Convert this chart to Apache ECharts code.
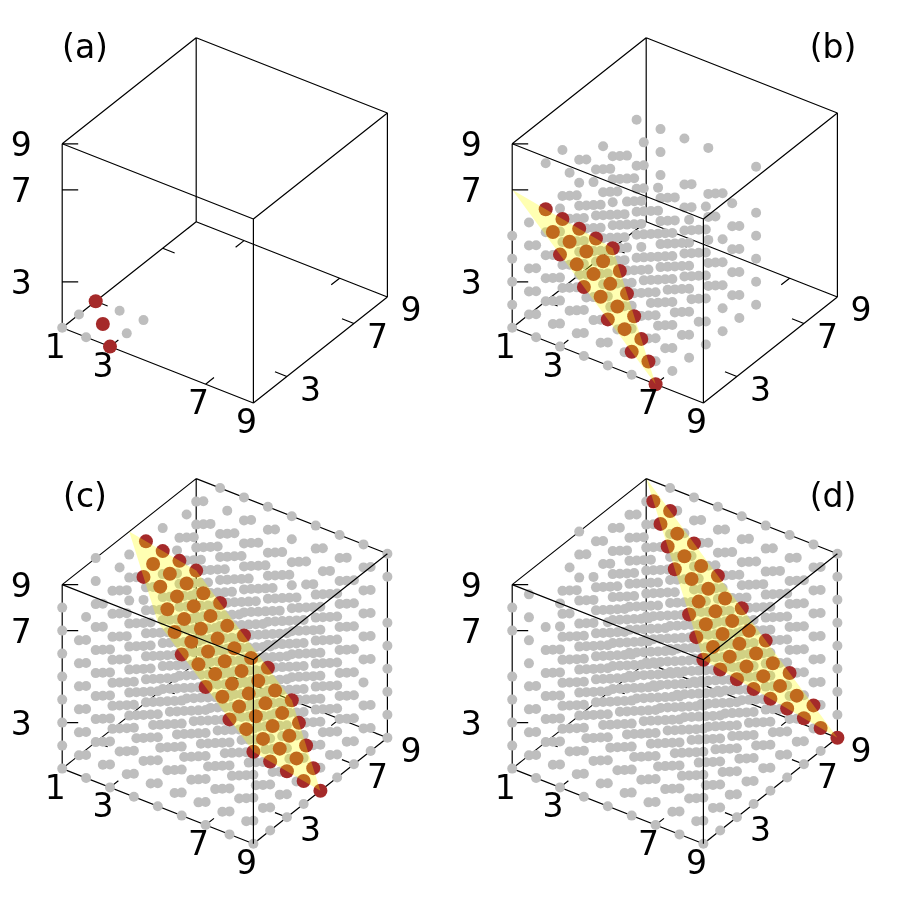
<!DOCTYPE html>
<html><head><meta charset="utf-8">
<style>html,body{margin:0;padding:0;background:#fff}#c{width:900px;height:900px}</style>
<script src="https://cdn.jsdelivr.net/npm/echarts@6/dist/echarts.min.js"></script></head>
<body><div id="c"></div>
<script>
// Occupancy. Each entry is a z layer (z=1 first); rows are y=1,2,... separated by "|", digits are x.
const greyA=["123|123|123"];
const greyB=[
 "1234567|1234567|1234567|1234567|1234567|123457|1234567",
 "1234567|1234567|1234567|1234567|1234567|1234567|1234567",
 "1234567|1234567|1234567|1234567|1234567|1234567|1234567",
 "1234567|1234567|1234567|123567|1234567|3457|1234567",
 "1234567|1234567|1234567|1234567|1234567|1234567|1234567",
 "345|3457|234567|3457|1235|2356|3",
 "34|3457|123457|123457|237|3|23457"];
const greyC=[
 "123456789|123456789|123456789|123456789|123456789|123456789|123456789|123456789|123456789",
 "123456789|123456789|123456789|123456789|123456789|123456789|123456789|123456789|123456789",
 "123456789|123456789|123456789|123456789|123456789|123456789|123456789|123456789|123456789",
 "123456789|123456789|123456789|123456789|123456789|123456789|123456789|12345678|123456789",
 "123456789|123456789|123456789|123456789|123456789|123456789|123456789|123456789|123456789",
 "123456789|123456789|123456789|123456789|123456789|123456789|123456789|123456789|123456789",
 "123789|23456789|123456789|13456789|123456789|3456789|123456789|12345789|1234578",
 "126789|23456789|123456789|23456789|123456789|13456789|123456789|23456789|13456789",
 "|36789|12356789|56789|3456789|3456789|23456789|2345789|23456789"];
const greyD=[
 "123456789|123456789|123456789|123456789|123456789|123456789|123456789|123456789|123456789",
 "123456789|123456789|123456789|123456789|123456789|123456789|123456789|123456789|123456789",
 "123456789|123456789|123456789|123456789|123456789|123456789|123456789|123456789|123456789",
 "123456789|123456789|123456789|123456789|123456789|123456789|123456789|123456789|123456789",
 "123456789|123456789|123456789|123456789|123456789|123456789|123456789|123456789|123456789",
 "3456789|123456789|123456789|123456789|123456789|123456789|123456789|123456789|123456789",
 "13456789|13456789|23456789|123456789|123456789|23456789|123456789|123456789|123456789",
 "13456789|156789|23456789|3456789|123456789|123456789|123456789|123456789|123456789",
 "359|35689|234789|2345789|123456789|23456789|23456789|23456789|23456789"];
// Highlighted points: each z layer lists "xy" pairs.
const redA=["13 22 31"];
const redB=["17 26 35 44 53 62 71","16 25 34 43 52 61","15 24 33 42 51","14 23 32 41","13 22 31"];
const redC=["59 68 77 86 95","49 58 67 76 85 94","39 48 57 66 75 84 93","29 38 47 56 65 74 83 92",
 "19 28 37 46 55 64 73 82 91","18 27 36 45 54 63 72 81","17 26 35 44 53 62 71","16 25 34 43 52 61","33"];
const redD=["99","89 98","79 88 97","69 78 87 96","59 68 77 86 95","49 58 67 76 85 94","39 48 57 66 75 84 93",
 "29 38 47 56 65 74 83 92","28 37 46 55 73 82 91"];
const planeB=[[7,1,1],[1,7,1],[1,1,7]];
const planeC=[[1,5,9],[5,1,9],[9,1,5],[9,5,1],[5,9,1],[1,9,5]];
const planeD=[[1,9,9],[9,1,9],[9,9,1]];
const xTicks=[1,3,7,9], yTicks=[3,7,9], zTicks=[3,7,9];
const panelNames=['(a)','(b)','(c)','(d)'];

const greys=[greyA,greyB,greyC,greyD], reds=[redA,redB,redC,redD], planes=[null,planeB,planeC,planeD];
const labelPos=[[85,49],[383,49],[85,57.5],[383,57.5]];
const O=[62.2,327.8], UX=[23.9,9.4], UY=[16.75,-13.25], UZ=23;
function P(x,y,z){return [O[0]+UX[0]*(x-1)+UY[0]*(y-1), O[1]+UX[1]*(x-1)+UY[1]*(y-1)-UZ*(z-1)];}
function parseGrey(L){const o=[];L.forEach((s,zi)=>s.split('|').forEach((r,yi)=>{for(const c of r)o.push(P(+c,yi+1,zi+1));}));return o;}
function parseRed(L){const o=[];L.forEach((s,zi)=>s.split(' ').forEach(p=>o.push(P(+p[0],+p[1],zi+1))));return o;}
function seg(a,b){return [a,b,['-','-']];}
const E=(a,b)=>seg(P(...a),P(...b));
const backEdges=[
 E([1,1,1],[9,1,1]),E([9,1,1],[9,9,1]),E([9,9,1],[1,9,1]),E([1,9,1],[1,1,1]),
 E([1,1,1],[1,1,9]),E([1,9,1],[1,9,9]),E([9,9,1],[9,9,9]),
 E([1,1,9],[1,9,9]),E([1,9,9],[9,9,9])
];
const frontEdges=[E([9,1,1],[9,1,9]),E([1,1,9],[9,1,9]),E([9,1,9],[9,9,9])];
const tickSegs=[];
xTicks.forEach(v=>{tickSegs.push(E([v,1,1],[v,1.5,1]));tickSegs.push(E([v,9,1],[v,8.5,1]));});
yTicks.forEach(v=>{tickSegs.push(E([9,v,1],[8.5,v,1]));tickSegs.push(E([1,v,1],[1.5,v,1]));});
zTicks.forEach(v=>{const p=P(1,1,v);tickSegs.push(seg(p,[p[0]+16,p[1]]));});

const grid=[],xAxis=[],yAxis=[],series=[];
const font='"DejaVu Sans",sans-serif';
panelNames.forEach((name,i)=>{
  const col=i%2,row=i>>1;
  grid.push({left:col*450,top:row*440.8,width:450,height:450,show:false});
  xAxis.push({type:'value',gridIndex:i,min:0,max:450,show:false});
  yAxis.push({type:'value',gridIndex:i,min:0,max:450,inverse:true,show:false});
  const base={xAxisIndex:i,yAxisIndex:i,silent:true,animation:false};
  series.push(Object.assign({},base,{type:'line',z:1,symbol:'none',data:backEdges.flat().concat(tickSegs.flat()),
    lineStyle:{color:'#000',width:1.2},connectNulls:false}));
  series.push(Object.assign({},base,{type:'scatter',z:2,symbol:'circle',symbolSize:10,data:parseGrey(greys[i]),
    itemStyle:{color:'#bebebe',opacity:1}}));
  series.push(Object.assign({},base,{type:'scatter',z:3,symbol:'circle',symbolSize:14,data:parseRed(reds[i]),
    itemStyle:{color:'#a52a2a',opacity:1}}));
  if(planes[i]){
    series.push(Object.assign({},base,{type:'custom',z:4,clip:false,data:planes[i].map(v=>P(...v)),encode:{x:0,y:1},
      renderItem:(params,api)=>{
        if(params.dataIndex!==0)return null;
        return {type:'polygon',shape:{points:planes[i].map(v=>api.coord(P(...v)))},style:{fill:'rgba(255,255,0,0.3)'}};
      }}));
  }
  series.push(Object.assign({},base,{type:'line',z:5,symbol:'none',data:frontEdges.flat(),lineStyle:{color:'#000',width:1.2},connectNulls:false}));
  const lbl=[];
  xTicks.forEach(v=>{const p=P(v,1,1);lbl.push({value:[p[0]-7,p[1]+21.5],t:String(v)});});
  yTicks.forEach(v=>{const p=P(9,v,1);lbl.push({value:[p[0]+23.5,p[1]+15.5],t:String(v)});});
  zTicks.forEach(v=>{const p=P(1,1,v);lbl.push({value:[p[0]-41,p[1]+4],t:String(v)});});
  lbl.push({value:labelPos[i],t:name});
  series.push(Object.assign({},base,{type:'scatter',z:6,symbol:'circle',symbolSize:1,data:lbl,
    itemStyle:{color:'#fff',opacity:1},
    label:{show:true,position:'inside',opacity:1,formatter:p=>p.data.t,fontFamily:font,fontSize:33,color:'#000',textBorderWidth:0}}));
});
const chart=echarts.init(document.getElementById('c'),null,{renderer:'canvas'});
chart.setOption({animation:false,backgroundColor:'#fff',grid,xAxis,yAxis,series,tooltip:{show:false}});
</script></body></html>
